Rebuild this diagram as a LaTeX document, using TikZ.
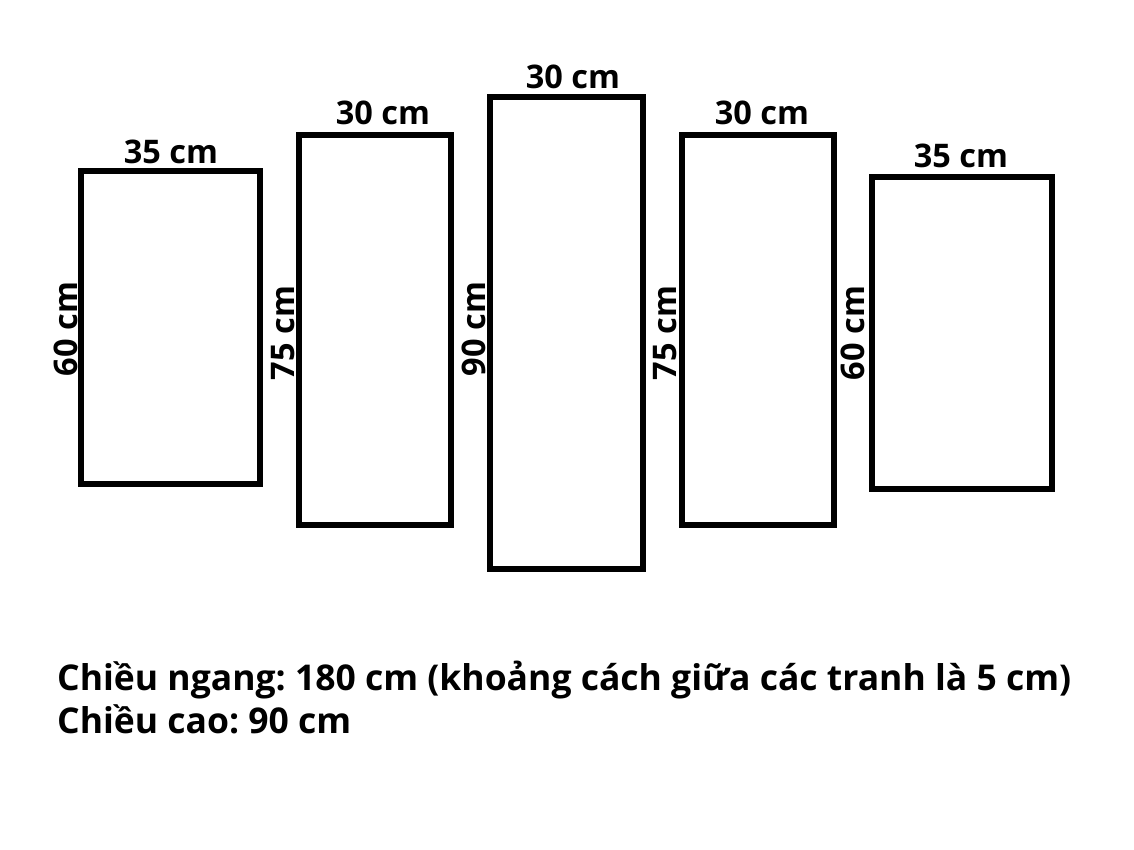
\documentclass[tikz,border=0pt]{standalone}
\usepackage{fontspec}
\setmainfont{Open Sans}
\frenchspacing
\begin{document}
\begin{tikzpicture}[x=1pt,y=-1pt,
  panel/.style={draw=black,line width=6.5pt,minimum width=#1,inner sep=0pt,outer sep=0pt},
  dim/.style={font=\fontsize{32.5}{38}\selectfont\bfseries,inner sep=0pt,anchor=base},
  vdim/.style={dim,rotate=90},
  note/.style={font=\fontsize{35.5}{42}\selectfont\bfseries,inner sep=0pt,anchor=base west}]
\useasboundingbox (0,0) rectangle (1134,850);
\node[panel=179pt,minimum height=313pt] (p1) at (170.5,327.5) {};
\node[panel=152pt,minimum height=390pt] (p2) at (375,330) {};
\node[panel=153pt,minimum height=472pt] (p3) at (566.5,333) {};
\node[panel=152pt,minimum height=390pt] (p4) at (758,330) {};
\node[panel=180pt,minimum height=312pt] (p5) at (962,333) {};
\node[dim] (w1) at (171,164) {35 cm};
\node[dim] (w2) at (383,125) {30 cm};
\node[dim] (w3) at (573,89) {30 cm};
\node[dim] (w4) at (762,125) {30 cm};
\node[dim] (w5) at (961,168) {35 cm};
\node[vdim] (h1) at (77,329) {60 cm};
\node[vdim] (h2) at (294,333) {75 cm};
\node[vdim] (h3) at (485,329) {90 cm};
\node[vdim] (h4) at (676,333) {75 cm};
\node[vdim] (h5) at (864,333) {60 cm};
\node[note] (n1) at (57,690) {Chiều ngang: 180 cm (khoảng cách giữa các tranh là 5 cm)};
\node[note] (n2) at (57,733) {Chiều cao: 90 cm};
\end{tikzpicture}
\end{document}
